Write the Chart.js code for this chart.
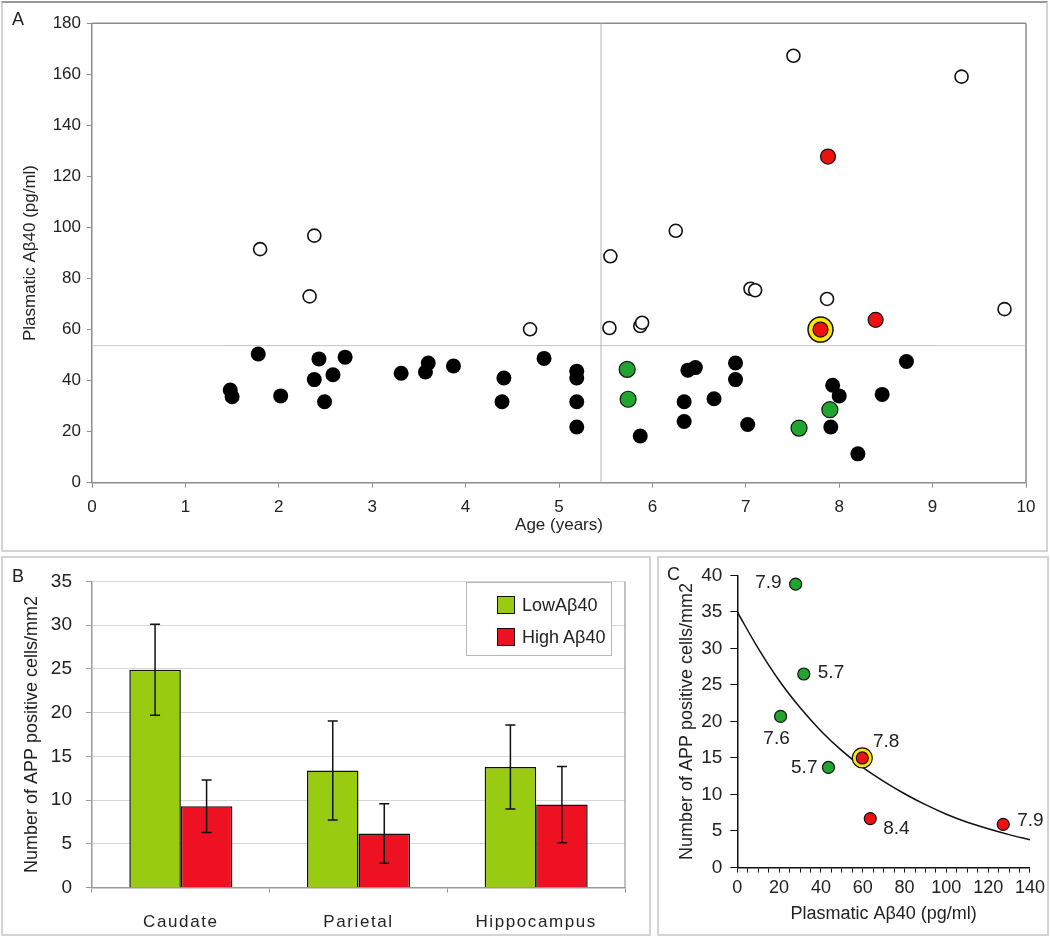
<!DOCTYPE html>
<html>
<head>
<meta charset="utf-8">
<script src="https://cdn.jsdelivr.net/npm/chart.js@4.4.1/dist/chart.umd.min.js"></script>
<style>
  body { margin: 0; background: #fff; width: 1050px; height: 940px; position: relative; overflow: hidden;
         font-family: "Liberation Sans", Arial, sans-serif; color: #222; }
  canvas { position: absolute; }
  .frame { position: absolute; box-sizing: border-box; border: 2px solid #d4d4d4; pointer-events: none; }
  .tag { position: absolute; font-size: 18px; line-height: 18px; }
  .legend { position: absolute; left: 466px; top: 582px; width: 146px; height: 74px; box-sizing: border-box;
            background: #fff; border: 1px solid #b8b8b8; }
  .legend .item { position: absolute; left: 30px; height: 18px; display: flex; align-items: center; font-size: 18px; }
  .legend .sw { width: 16px; height: 16px; border: 1.5px solid #111; margin-right: 7px; }
</style>
</head>
<body>
<canvas id="chartA" width="1048" height="552" style="left:0;top:0"></canvas>
<canvas id="chartB" width="652" height="380" style="left:0;top:556px"></canvas>
<canvas id="chartC" width="392" height="380" style="left:658px;top:556px"></canvas>

<div class="frame" style="left:1px;top:1px;width:1047px;height:551px;border-top-color:#999"></div>
<div class="frame" style="left:1px;top:556px;width:650px;height:380px"></div>
<div class="frame" style="left:657px;top:556px;width:392px;height:380px"></div>

<div class="tag" style="left:12px;top:10px">A</div>
<div class="tag" style="left:12px;top:567px">B</div>
<div class="tag" style="left:667px;top:565px">C</div>

<div class="legend">
  <div class="item" style="top:13px"><span class="sw" style="background:#99cc11"></span>LowAβ40</div>
  <div class="item" style="top:45px"><span class="sw" style="background:#ee1122"></span>High Aβ40</div>
</div>

<script>
// ---- Panel A: plasmatic Abeta40 vs age ----
const openAge   = [1.80, 2.33, 2.38, 4.69, 5.54, 5.55, 5.87, 5.89, 6.25, 7.05, 7.10, 7.51, 7.87, 9.31, 9.77];
const openAbeta = [91.5, 73.0, 96.8, 60.1, 60.6, 88.7, 61.4, 62.7, 98.7, 76.0, 75.4, 167.3, 72.0, 159.1, 68.0];

const blackAge   = [1.48, 1.50, 1.78, 2.02, 2.38, 2.43, 2.49, 2.58, 2.71, 3.31, 3.57, 3.60, 3.87, 4.39, 4.41, 4.84,
                    5.19, 5.19, 5.19, 5.19, 5.87, 6.34, 6.34, 6.38, 6.46, 6.66, 6.89, 6.89, 7.02, 7.91, 7.93, 8.00,
                    8.20, 8.46, 8.72];
const blackAbeta = [36.3, 33.7, 50.4, 34.0, 40.4, 48.5, 31.7, 42.3, 49.2, 42.9, 43.4, 46.9, 45.7, 31.7, 41.0, 48.7,
                    43.7, 41.0, 31.7, 21.8, 18.3, 31.7, 24.0, 44.1, 45.1, 32.9, 46.9, 40.4, 22.8, 21.8, 38.2, 34.0,
                    11.3, 34.6, 47.5];

const lowAge    = [5.73, 5.74, 7.57, 7.90];
const lowAbeta  = [44.4, 32.7, 21.4, 28.6];
const highAge   = [7.88, 8.39];
const highAbeta = [127.8, 63.8];
const markedAge   = [7.80];
const markedAbeta = [60.0];

const cutAge = 5.45;
const cutAbeta = 53.7;
const ageTicks = [0, 10, 1];      // min, max, step
const abetaTicks = [0, 180, 20];

// ---- Panel B: APP positive cells per region ----
const regions  = ['Caudate', 'Parietal', 'Hippocampus'];
const lowMean  = [24.9, 13.4, 13.8];
const lowErr   = [5.2, 5.65, 4.8];
const highMean = [9.3, 6.2, 9.5];
const highErr  = [3.0, 3.4, 4.35];
const cellTicksB = [0, 35, 5];

// ---- Panel C: APP cells vs plasmatic Abeta40 ----
const cLowAbeta  = [27.9, 31.8, 20.7, 43.6];
const cLowCells  = [38.8, 26.5, 20.7, 13.7];
const cLowAge    = ['7.9', '5.7', '7.6', '5.7'];
const cHighAbeta = [59.8, 63.6, 127.2];
const cHighCells = [15.0, 6.7, 5.9];
const cHighAge   = ['7.8', '8.4', '7.9'];
const cRingAbeta = [59.8];
const cRingCells = [15.0];
const fitAbeta = [0, 10, 20, 30, 40, 50, 60, 70, 80, 90, 100, 110, 120, 130, 140];
const fitCells = [35.0, 30.0, 25.6, 21.9, 18.7, 16.0, 13.7, 11.8, 10.1, 8.6, 7.3, 6.2, 5.3, 4.5, 3.8];
const abetaTicksC = [0, 140, 5];
const cellTicksC = [0, 40, 5];

const FONT = '"Liberation Sans", Arial, sans-serif';
Chart.defaults.font.family = FONT;
Chart.defaults.color = '#222';
Chart.defaults.animation = false;
Chart.defaults.plugins.legend.display = false;
Chart.defaults.plugins.tooltip.enabled = false;

const pts = (xs, ys) => xs.map((x, i) => ({ x, y: ys[i] }));

// draws the remaining sides of the plot frame
const plotFrame = {
  id: 'plotFrame',
  beforeDatasetsDraw(chart, args, opts) {
    if (!opts.sides) return;
    const { ctx, chartArea: a } = chart;
    ctx.save();
    ctx.strokeStyle = opts.color;
    ctx.lineWidth = opts.width;
    ctx.beginPath();
    if (opts.sides.includes('top')) { ctx.moveTo(a.left, a.top); ctx.lineTo(a.right, a.top); }
    if (opts.sides.includes('right')) { ctx.moveTo(a.right, a.top); ctx.lineTo(a.right, a.bottom); }
    ctx.stroke();
    ctx.restore();
  }
};

// --- A ---
new Chart(document.getElementById('chartA'), {
  type: 'scatter',
  data: {
    datasets: [
      { type: 'line', data: [{ x: cutAge, y: abetaTicks[0] }, { x: cutAge, y: abetaTicks[1] }],
        borderColor: '#b4b4b4', borderWidth: 1, pointRadius: 0, order: 10 },
      { type: 'line', data: [{ x: ageTicks[0], y: cutAbeta }, { x: ageTicks[1], y: cutAbeta }],
        borderColor: '#c4c4c4', borderWidth: 1, pointRadius: 0, order: 10 },
      { data: pts(openAge, openAbeta), pointRadius: 6.5, pointBackgroundColor: '#fff',
        pointBorderColor: '#111', pointBorderWidth: 1.6, order: 5 },
      { data: pts(blackAge, blackAbeta), pointRadius: 7.5, pointBackgroundColor: '#000',
        pointBorderColor: '#000', pointBorderWidth: 0, order: 4 },
      { data: pts(markedAge, markedAbeta), pointRadius: 12.5, pointBackgroundColor: '#ffe600',
        pointBorderColor: '#111', pointBorderWidth: 1.5, order: 3 },
      { data: pts(lowAge, lowAbeta), pointRadius: 8, pointBackgroundColor: '#22a52e',
        pointBorderColor: '#111', pointBorderWidth: 1.2, order: 2 },
      { data: pts(highAge.concat(markedAge), highAbeta.concat(markedAbeta)), pointRadius: 7.5,
        pointBackgroundColor: '#ee1111', pointBorderColor: '#111', pointBorderWidth: 1.2, order: 1 }
    ]
  },
  options: {
    responsive: false,
    layout: { padding: { top: 23.3, right: 22, left: 0, bottom: 0 } },
    plugins: { plotFrame: { sides: ['top', 'right'], color: '#8c8c8c', width: 1.5 } },
    scales: {
      x: {
        type: 'linear', min: ageTicks[0], max: ageTicks[1],
        ticks: { stepSize: ageTicks[2], font: { size: 17 }, padding: 9.5, color: '#222' },
        grid: { drawOnChartArea: false, tickLength: 5, color: '#8c8c8c' },
        border: { color: '#8c8c8c', width: 1.5 },
        title: { display: true, text: 'Age (years)', font: { size: 17 }, color: '#222', padding: { top: 0, bottom: 16 } },
        afterFit: s => { s.height = 69.3; }
      },
      y: {
        min: abetaTicks[0], max: abetaTicks[1],
        ticks: { stepSize: abetaTicks[2], font: { size: 17 }, padding: 6, color: '#222' },
        grid: { drawOnChartArea: false, tickLength: 5, color: '#8c8c8c' },
        border: { color: '#8c8c8c', width: 1.5 },
        title: { display: true, text: 'Plasmatic Aβ40 (pg/ml)', font: { size: 17 }, color: '#222', padding: { top: 19.8, bottom: 0 } },
        afterFit: s => { s.width = 92; }
      }
    }
  },
  plugins: [plotFrame]
});

// --- B ---
const errorBars = {
  id: 'errorBars',
  afterDatasetsDraw(chart, args, opts) {
    const { ctx } = chart;
    const y = chart.scales.y;
    ctx.save();
    ctx.strokeStyle = '#111';
    ctx.lineWidth = 1.5;
    chart.data.datasets.forEach((ds, di) => {
      const errs = opts.errors[di];
      chart.getDatasetMeta(di).data.forEach((bar, i) => {
        const top = y.getPixelForValue(ds.data[i] + errs[i]);
        const bot = y.getPixelForValue(ds.data[i] - errs[i]);
        ctx.beginPath();
        ctx.moveTo(bar.x, top); ctx.lineTo(bar.x, bot);
        ctx.moveTo(bar.x - 5, top); ctx.lineTo(bar.x + 5, top);
        ctx.moveTo(bar.x - 5, bot); ctx.lineTo(bar.x + 5, bot);
        ctx.stroke();
      });
    });
    ctx.restore();
  }
};

// category labels of panel B are printed letter-spaced; they are drawn after the datasets (ticks z: 1)
const spacedLabels = {
  id: 'spacedLabels',
  afterDatasetsDraw(chart, args, opts) { chart.ctx.letterSpacing = opts.spacing; },
  afterDraw(chart) { chart.ctx.letterSpacing = '0px'; }
};

new Chart(document.getElementById('chartB'), {
  type: 'bar',
  data: {
    labels: regions,
    datasets: [
      { label: 'LowAβ40', data: lowMean, backgroundColor: '#99cc11', borderColor: '#111', borderWidth: 1.5,
        barPercentage: 1, categoryPercentage: 0.58 },
      { label: 'High Aβ40', data: highMean, backgroundColor: '#ee1122', borderColor: '#111', borderWidth: 1.5,
        barPercentage: 1, categoryPercentage: 0.58 }
    ]
  },
  options: {
    responsive: false,
    layout: { padding: { top: 19.7, right: 27, left: 0, bottom: 0 } },
    plugins: {
      errorBars: { errors: [lowErr, highErr] },
      plotFrame: { sides: ['right'], color: '#9a9a9a', width: 1.2 },
      spacedLabels: { spacing: '1.6px' }
    },
    scales: {
      x: {
        ticks: { font: { size: 17 }, padding: 19.5, color: '#222', z: 1 },
        grid: { drawOnChartArea: false, tickLength: 5, color: '#9a9a9a', offset: true },
        border: { color: '#9a9a9a', width: 1.5 },
        afterFit: s => { s.height = 48.3; }
      },
      y: {
        min: cellTicksB[0], max: cellTicksB[1],
        ticks: { stepSize: cellTicksB[2], font: { size: 19 }, padding: 14, color: '#222' },
        grid: { color: '#d6d6d6', tickColor: '#9a9a9a', tickLength: 6 },
        border: { color: '#9a9a9a', width: 1.5 },
        title: { display: true, text: 'Number of APP positive cells/mm2', font: { size: 18 }, color: '#222',
                 padding: { top: 21, bottom: 0 } },
        afterFit: s => { s.width = 92; }
      }
    }
  },
  plugins: [errorBars, plotFrame, spacedLabels]
});

// --- C ---
const pointTags = {
  id: 'pointTags',
  afterDatasetsDraw(chart, args, opts) {
    const { ctx } = chart;
    ctx.save();
    ctx.font = '19px ' + FONT;
    ctx.fillStyle = '#222';
    ctx.textBaseline = 'middle';
    opts.sets.forEach(({ index, tags, place }) => {
      chart.getDatasetMeta(index).data.forEach((pt, i) => {
        const p = place[i];
        ctx.textAlign = p.align;
        ctx.fillText(tags[i], pt.x + p.dx, pt.y + p.dy);
      });
    });
    ctx.restore();
  }
};

new Chart(document.getElementById('chartC'), {
  type: 'scatter',
  data: {
    datasets: [
      { type: 'line', data: pts(fitAbeta, fitCells), borderColor: '#111', borderWidth: 1.5,
        pointRadius: 0, cubicInterpolationMode: 'monotone', order: 5 },
      { data: pts(cRingAbeta, cRingCells), pointRadius: 10, pointBackgroundColor: '#ffe600',
        pointBorderColor: '#111', pointBorderWidth: 1.2, order: 3 },
      { data: pts(cLowAbeta, cLowCells), pointRadius: 6, pointBackgroundColor: '#22a52e',
        pointBorderColor: '#111', pointBorderWidth: 1.2, order: 2 },
      { data: pts(cHighAbeta, cHighCells), pointRadius: 6, pointBackgroundColor: '#ee1111',
        pointBorderColor: '#111', pointBorderWidth: 1.2, order: 1 }
    ]
  },
  options: {
    responsive: false,
    layout: { padding: { top: 18.5, right: 19.3, left: 0, bottom: 0 } },
    plugins: {
      pointTags: {
        sets: [
          { index: 2, tags: cLowAge, place: [
            { align: 'right', dx: -14, dy: -1 }, { align: 'left', dx: 14, dy: -1 },
            { align: 'center', dx: -4, dy: 22 }, { align: 'right', dx: -11, dy: 0 } ] },
          { index: 3, tags: cHighAge, place: [
            { align: 'left', dx: 10.6, dy: -16 }, { align: 'left', dx: 13, dy: 10 },
            { align: 'left', dx: 14, dy: -4 } ] }
        ]
      }
    },
    scales: {
      x: {
        type: 'linear', min: abetaTicksC[0], max: abetaTicksC[1],
        ticks: { stepSize: abetaTicksC[2], autoSkip: false, maxRotation: 0, font: { size: 18 }, padding: 5, color: '#222',
                 callback: v => (v % 20 === 0 ? v : '') },
        grid: { drawOnChartArea: false, tickLength: 5, color: '#111' },
        border: { color: '#111', width: 1.5 },
        title: { display: true, text: 'Plasmatic Aβ40 (pg/ml)', font: { size: 18 }, color: '#222', padding: { top: 0, bottom: 11 } },
        afterFit: s => { s.height = 68.5; }
      },
      y: {
        min: cellTicksC[0], max: cellTicksC[1],
        ticks: { stepSize: cellTicksC[2], font: { size: 19 }, padding: 8, color: '#222' },
        grid: { drawOnChartArea: false, tickLength: 7, color: '#111' },
        border: { color: '#111', width: 1.5 },
        title: { display: true, text: 'Number of APP positive cells/mm2', font: { size: 18 }, color: '#222',
                 padding: { top: 18, bottom: 0 } },
        afterFit: s => { s.width = 79.3; }
      }
    }
  },
  plugins: [pointTags]
});
</script>
</body>
</html>
